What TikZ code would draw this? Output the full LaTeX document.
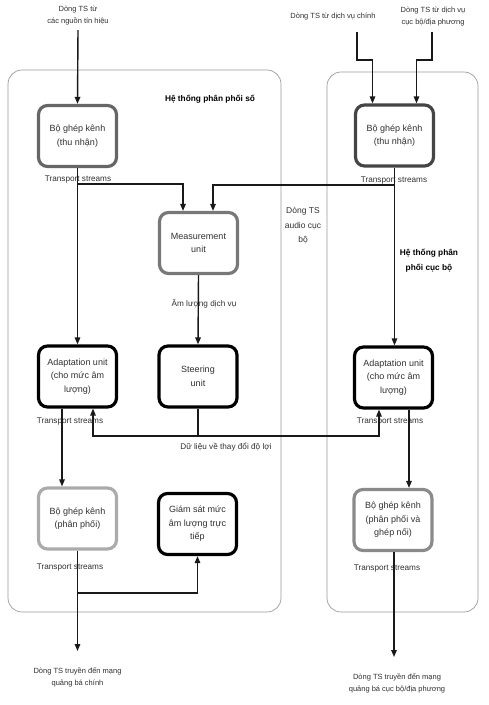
\documentclass[tikz,border=0pt]{standalone}
\usepackage{fontspec}
\setmainfont{Liberation Sans}
\usetikzlibrary{arrows.meta}
\definecolor{txt}{HTML}{303030}
\definecolor{bxA}{HTML}{666666}
\definecolor{bxB}{HTML}{787878}
\definecolor{bxC}{HTML}{454545}
\definecolor{bxD}{HTML}{ABABAB}
\definecolor{bxE}{HTML}{8A8A8A}
\definecolor{frm}{HTML}{9A9A9A}
\begin{document}
\begin{tikzpicture}[x=1pt,y=-1pt,
  every node/.style={font=\fontsize{7.5}{12}\selectfont, text=txt, inner sep=1pt},
  box/.style={draw, rounded corners=9pt, line width=3.2pt, minimum width=78pt,
    minimum height=61pt, align=center, font=\fontsize{9}{13.5}\selectfont},
  lbl/.style={align=center},
  ts/.style={font=\fontsize{8.2}{12}\selectfont},
  hdr/.style={align=center, font=\bfseries\fontsize{8.3}{15}\selectfont, text=black},
  arr/.style={-{Triangle[length=7pt,width=5.5pt]}, line width=1.4pt, draw=black!90},
  ln/.style={line width=1.4pt, draw=black!90},
  frame/.style={draw=frm, line width=0.7pt, rounded corners=14pt}]
\useasboundingbox (0,0) rectangle (488,705);

% containers
\draw[frame] (8,70) rectangle (281,612);
\draw[frame] (327,72) rectangle (478,612);

% boxes
\node[box, draw=bxA] (mux1) at (77.5,136) {Bộ ghép kênh\\(thu nhận)};
\node[box, draw=bxB] (meas) at (198.5,243) {Measurement\\unit};
\node[box, draw=black] (steer) at (198,376.5) {Steering\\unit};
\node[box, draw=black] (adaptL) at (77.5,376.5) {Adaptation unit\\(cho mức âm\\lượng)};
\node[box, draw=bxD] (muxoutL) at (77.5,518.5) {Bộ ghép kênh\\(phân phối)};
\node[box, draw=black] (mon) at (197.5,524) {Giám sát mức\\âm lượng trực\\tiếp};
\node[box, draw=bxC] (muxR) at (394.5,135.5) {Bộ ghép kênh\\(thu nhận)};
\node[box, draw=black] (adaptR) at (393.5,377.5) {Adaptation unit\\(cho mức âm\\lượng)};
\node[box, draw=bxE] (muxoutR) at (393,520) {Bộ ghép kênh\\(phân phối và\\ghép nối)};

% texts
\node[lbl] (srcL) at (78,16) {Dòng TS từ\\các nguồn tín hiệu};
\node[lbl] (srcR1) at (333,17) {Dòng TS từ dịch vụ chính};
\node[lbl] (srcR2) at (433,17) {Dòng TS từ dịch vụ\\cục bộ/địa phương};
\node[hdr] (hL) at (210,99) {Hệ thống phân phối số};
\node[hdr] (hR) at (429,261) {Hệ thống phân\\phối cục bộ};
\node[lbl, ts] (t1) at (78,180) {Transport streams};
\node[lbl, ts] (t2) at (394,181) {Transport streams};
\node[lbl, ts] (t3) at (70,422) {Transport streams};
\node[lbl, ts] (t4) at (390,422) {Transport streams};
\node[lbl, ts] (t5) at (70,568) {Transport streams};
\node[lbl, ts] (t6) at (387,569) {Transport streams};
\node[lbl, font=\fontsize{8.5}{14.5}\selectfont] (aud) at (303,226) {Dòng TS\\audio cục\\bộ};
\node[lbl, ts] (vol) at (204,304) {Âm lượng dịch vụ};
\node[lbl, ts] (gain) at (226,447) {Dữ liệu về thay đổi độ lợi};
\node[lbl] (dstL) at (77.5,677) {Dòng TS truyền đến mạng\\quảng bá chính};
\node[lbl] (dstR) at (397,683) {Dòng TS truyền đến mạng\\quảng bá cục bộ/địa phương};

% coordinates
\coordinate (b1) at (77.5,184);
\coordinate (b2) at (394.5,185);
\coordinate (g) at (198,436);
\coordinate (b3) at (77.5,593);
\coordinate (r1) at (357,32);
\coordinate (r2) at (432,32);
\coordinate (eL) at (77.5,651);
\coordinate (eR) at (394,657);

% connectors
\draw[arr] (srcL.south |- 0,30) -- (mux1.north);
\draw[arr] (r1) -- ++(0,28) -| ([xshift=-22pt]muxR.north);
\draw[arr] (r2) -- ++(0,28) -| ([xshift=22pt]muxR.north);
\draw[arr] (mux1.south) -- (adaptL.north);
\draw[arr] (b1) -| ([xshift=-15.5pt]meas.north);
\draw[arr] (muxR.south) -- (muxR.south |- adaptR.north);
\draw[arr] (b2) -| ([xshift=14.5pt]meas.north);
\draw[arr] (meas.south) -- (steer.north);
\draw[ln] (steer.south) -- (g);
\draw[arr] (g) -| ([xshift=15.5pt]adaptL.south);
\draw[arr] (g) -| ([xshift=-14.5pt]adaptR.south);
\draw[arr] ([xshift=-15.5pt]adaptL.south) -- ([xshift=-15.5pt]muxoutL.north);
\draw[arr] ([xshift=15.5pt]adaptR.south) -- ([xshift=16pt]muxoutR.north);
\draw[arr] (muxoutL.south) -- (eL);
\draw[arr] (b3) -| (mon.south);
\draw[arr] ([xshift=1pt]muxoutR.south) -- (eR);
\end{tikzpicture}
\end{document}
